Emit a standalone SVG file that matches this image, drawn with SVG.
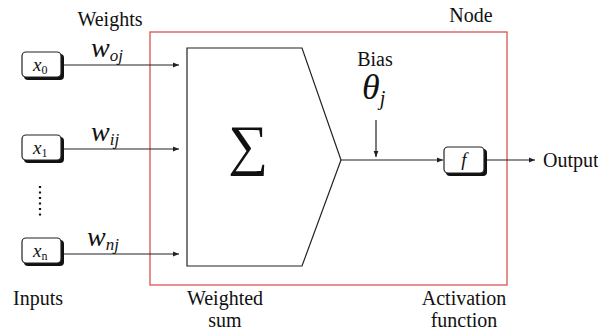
<svg xmlns="http://www.w3.org/2000/svg" width="598" height="336" viewBox="0 0 598 336">
<style>
.lbl{font-size:20px}
.it{font-style:italic}
.ln{stroke:#222;stroke-width:1.2;fill:none}
.box{fill:#fff;stroke:#222;stroke-width:1.2}
.sh{fill:#111}
</style>
<defs>
<marker id="ah" viewBox="0 0 10 10" refX="10" refY="5" markerWidth="6" markerHeight="6" orient="auto" markerUnits="userSpaceOnUse"><path d="M0,1 L10,5 L0,9 z" fill="#222"/></marker>
</defs>
<g font-family="Liberation Serif, Times New Roman, serif" fill="#111">
<rect id="node-frame" x="150" y="32" width="357" height="253" fill="none" stroke="#d9534f" stroke-width="1.3"/>
<g id="connectors">
<line class="ln" x1="62" y1="65" x2="179" y2="65" marker-end="url(#ah)"/>
<line class="ln" x1="62" y1="149" x2="179" y2="149" marker-end="url(#ah)"/>
<line class="ln" x1="62" y1="254" x2="179" y2="254" marker-end="url(#ah)"/>
<line class="ln" x1="376" y1="120" x2="376" y2="157" marker-end="url(#ah)"/>
<line class="ln" x1="341" y1="160" x2="443" y2="160" marker-end="url(#ah)"/>
<line class="ln" x1="487" y1="160" x2="535" y2="160" marker-end="url(#ah)"/>
</g>
<g id="x0">
<rect class="sh" x="24" y="54" width="40" height="26" rx="4"/>
<rect class="box" x="22" y="52" width="39" height="25" rx="4"/>
<text x="33" y="71" class="it" font-size="19">x<tspan font-style="normal" font-size="12" dy="3">0</tspan></text>
</g>
<g id="x1">
<rect class="sh" x="24" y="137" width="40" height="26" rx="4"/>
<rect class="box" x="22" y="135" width="39" height="25" rx="4"/>
<text x="33" y="154" class="it" font-size="19">x<tspan font-style="normal" font-size="12" dy="3">1</tspan></text>
</g>
<g id="xn">
<rect class="sh" x="24" y="240" width="40" height="26" rx="4"/>
<rect class="box" x="22" y="238" width="39" height="25" rx="4"/>
<text x="33" y="257" class="it" font-size="19">x<tspan font-style="normal" font-size="12" dy="3">n</tspan></text>
</g>
<line id="dots" x1="40" y1="186" x2="40" y2="218" stroke="#111" stroke-width="2.2" stroke-dasharray="2,3.5"/>
<g id="sum">
<path class="ln" d="M187,48 L302,48 L341,160 L302,266 L187,266 Z" fill="#fff"/>
<text x="248" y="164" font-size="56" text-anchor="middle">∑</text>
</g>
<g id="activation">
<rect class="sh" x="446" y="149" width="41" height="27" rx="4"/>
<rect class="box" x="444" y="147" width="40" height="26" rx="4"/>
<text x="464" y="166" class="it" font-size="19" text-anchor="middle">f</text>
</g>
<text x="110" y="26" class="lbl" text-anchor="middle">Weights</text>
<text x="91" y="57" class="it" font-size="28">w<tspan font-size="17" dy="4">oj</tspan></text>
<text x="91" y="141" class="it" font-size="28">w<tspan font-size="17" dy="4">ij</tspan></text>
<text x="87" y="246" class="it" font-size="28">w<tspan font-size="17" dy="4">nj</tspan></text>
<text x="38" y="305" class="lbl" text-anchor="middle">Inputs</text>
<text x="471" y="22" class="lbl" text-anchor="middle">Node</text>
<text x="375" y="66" class="lbl" text-anchor="middle">Bias</text>
<text x="362" y="99" class="it" font-size="36">θ<tspan font-size="20" dy="6">j</tspan></text>
<text x="543" y="167" class="lbl">Output</text>
<text x="225" y="305" class="lbl" text-anchor="middle">Weighted</text>
<text x="225" y="327" class="lbl" text-anchor="middle">sum</text>
<text x="464" y="305" class="lbl" text-anchor="middle">Activation</text>
<text x="464" y="327" class="lbl" text-anchor="middle">function</text>
</g>
</svg>
